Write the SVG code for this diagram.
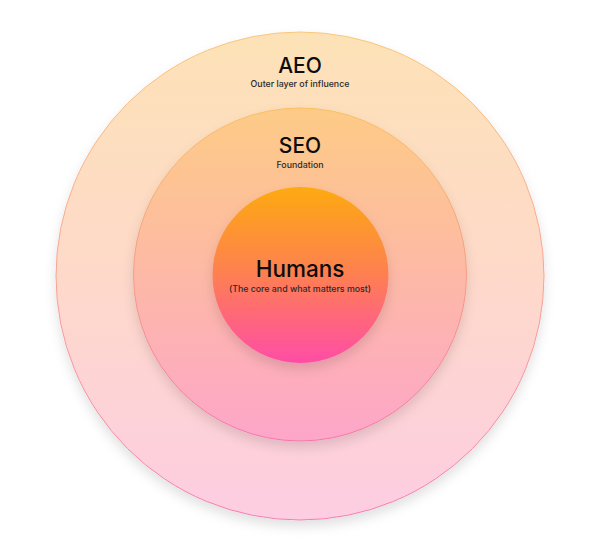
<svg xmlns="http://www.w3.org/2000/svg" width="600" height="551" viewBox="0 0 600 551">
<defs>
<linearGradient id="gOuter" x1="0" y1="0" x2="0" y2="1">
<stop offset="0" stop-color="#FDE2B6"/>
<stop offset="0.5" stop-color="#FED9CA"/>
<stop offset="1" stop-color="#FDCDE2"/>
</linearGradient>
<linearGradient id="sOuter" x1="0" y1="0" x2="0" y2="1">
<stop offset="0" stop-color="#F9C77A"/>
<stop offset="1" stop-color="#F77DB0"/>
</linearGradient>
<linearGradient id="gMid" x1="0" y1="0" x2="0" y2="1">
<stop offset="0" stop-color="#FDCB86"/>
<stop offset="0.5" stop-color="#FDB9A6"/>
<stop offset="1" stop-color="#FDA6CA"/>
</linearGradient>
<linearGradient id="sMid" x1="0" y1="0" x2="0" y2="1">
<stop offset="0" stop-color="#F9BE62"/>
<stop offset="1" stop-color="#F576A8"/>
</linearGradient>
<linearGradient id="gIn" x1="0" y1="0" x2="0" y2="1">
<stop offset="0" stop-color="#FDAA10"/>
<stop offset="0.5" stop-color="#FE7F52"/>
<stop offset="1" stop-color="#FF4DA6"/>
</linearGradient>
<filter id="shadow" x="-20%" y="-20%" width="140%" height="150%">
<feDropShadow dx="0" dy="6" stdDeviation="6" flood-color="#000" flood-opacity="0.12"/>
</filter>
</defs>
<style>
.title{font-family:Inter,"Liberation Sans",sans-serif;fill:#0d0d0d;text-anchor:middle;font-weight:500;}
.sub{font-family:Inter,"Liberation Sans",sans-serif;fill:#2a2a2a;text-anchor:middle;font-size:8.8px;font-weight:500;}
</style>
<g id="aeo">
<circle cx="300" cy="276" r="244" fill="url(#gOuter)" stroke="url(#sOuter)" stroke-width="1" filter="url(#shadow)"/>
<text class="title" x="300" y="73" font-size="21">AEO</text>
<text class="sub" x="300" y="87">Outer layer of influence</text>
</g>
<g id="seo">
<circle cx="300" cy="274.5" r="166.5" fill="url(#gMid)" stroke="url(#sMid)" stroke-width="1" filter="url(#shadow)"/>
<text class="title" x="300" y="153" font-size="21">SEO</text>
<text class="sub" x="300" y="168">Foundation</text>
</g>
<g id="humans">
<circle cx="300.5" cy="275" r="88" fill="url(#gIn)" filter="url(#shadow)"/>
<text class="title" x="300" y="277" font-size="22.5">Humans</text>
<text class="sub" x="300" y="292">(The core and what matters most)</text>
</g>
<g id="connectors"/>
</svg>
